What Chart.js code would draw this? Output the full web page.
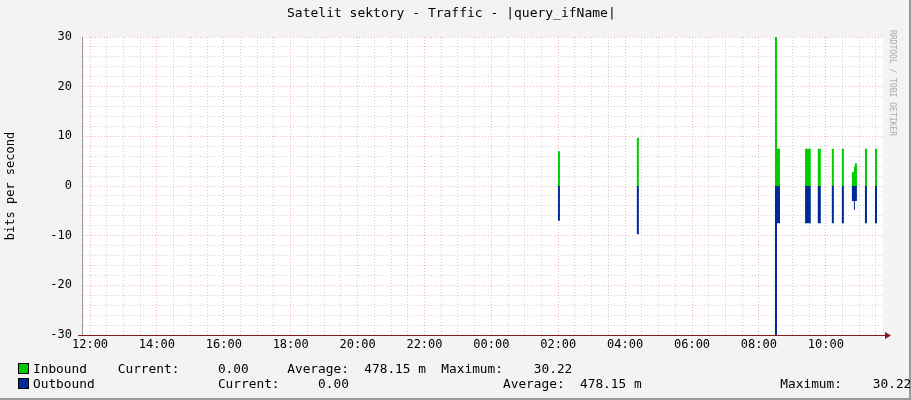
<!DOCTYPE html>
<html><head><meta charset="utf-8">
<script src="https://cdn.jsdelivr.net/npm/chart.js@4/dist/chart.umd.min.js"></script>
<style>
body{margin:0;background:#f3f3f3;}
#wrap{position:relative;width:911px;height:400px;border-right:2px solid #9a9a9a;border-bottom:2px solid #9a9a9a;box-sizing:border-box;}
canvas{position:absolute;left:0;top:0;}
.t{position:absolute;font-family:"DejaVu Sans Mono",monospace;font-size:12.8px;color:#000;white-space:pre;}
.sw{display:inline-block;width:9px;height:9px;border:1px solid #000;vertical-align:-1px;margin-right:4px;}
</style></head><body>
<div id="wrap">
<canvas id="myChart" width="909" height="398"></canvas>
<div class="t" style="left:287px;top:5px;font-size:13px">Satelit sektory - Traffic - |query_ifName|</div>
<div class="t" style="left:897px;top:30px;font-size:8px;color:#aaa;transform:rotate(90deg);transform-origin:0 0">RRDTOOL / TOBI OETIKER</div>
<div class="t" style="left:18px;top:361px"><span class="sw" style="background:#00cc00"></span>Inbound    Current:     0.00     Average:  478.15 m  Maximum:    30.22</div>
<div class="t" style="left:18px;top:376px"><span class="sw" style="background:#002a97"></span>Outbound                Current:     0.00                    Average:  478.15 m                  Maximum:    30.22</div>
</div>
<script>
// hours after 12:00
const spikeStart = [13.99, 16.35, 20.48, 20.54, 21.38, 21.76, 22.18, 22.48, 22.78, 22.84, 22.87, 23.17, 23.47];
const spikeEnd   = [14.05, 16.41, 20.54, 20.63, 21.55, 21.85, 22.24, 22.54, 22.84, 22.87, 22.93, 23.23, 23.53];
const inbound    = [7.0, 9.7, 30.2, 7.5, 7.5, 7.5, 7.5, 7.5, 2.8, 3.9, 4.6, 7.5, 7.5];
const outbound   = [7.0, 9.7, 30.2, 7.5, 7.5, 7.5, 7.5, 7.5, 3.0, 4.8, 3.0, 7.5, 7.5];
const timeLabels = ["12:00","14:00","16:00","18:00","20:00","22:00","00:00","02:00","04:00","06:00","08:00","10:00"];

const steps = (vals, sign) => {
  const pts = [];
  spikeStart.forEach((s, i) => {
    const v = vals[i] * sign;
    pts.push({x: s, y: 0}, {x: s, y: v}, {x: spikeEnd[i], y: v}, {x: spikeEnd[i], y: 0});
  });
  return pts;
};

const plotBg = {
  id: "plotBg",
  beforeDraw(c) {
    const a = c.chartArea, x = c.ctx;
    x.save(); x.fillStyle = "#fff"; x.fillRect(a.left, a.top, a.right - a.left, a.bottom - a.top); x.restore();
  },
  afterDraw(c) {
    const a = c.chartArea, x = c.ctx;
    x.save(); x.strokeStyle = "#8b1a1a"; x.fillStyle = "#8b1a1a"; x.lineWidth = 1;
    x.beginPath(); x.moveTo(a.left - 4, a.bottom + 0.5); x.lineTo(a.right + 4, a.bottom + 0.5); x.stroke();
    x.beginPath(); x.moveTo(a.right + 8, a.bottom + 0.5); x.lineTo(a.right + 2, a.bottom - 3); x.lineTo(a.right + 2, a.bottom + 4); x.fill();
    x.restore();
  }
};

const grid = (ctx, major) => {
  const v = ctx.tick ? ctx.tick.value : 0;
  return Math.abs(v / major - Math.round(v / major)) < 1e-6 ? "rgba(230,120,120,0.55)" : "rgba(180,180,180,0.6)";
};

new Chart(document.getElementById("myChart").getContext("2d"), {
  type: "line",
  data: {
    datasets: [
      {label: "Inbound", data: steps(inbound, 1), borderWidth: 0, pointRadius: 0, fill: "origin", backgroundColor: "#00cc00", borderColor: "#00cc00", tension: 0},
      {label: "Outbound", data: steps(outbound, -1), borderWidth: 0, pointRadius: 0, fill: "origin", backgroundColor: "#002a97", borderColor: "#002a97", tension: 0}
    ]
  },
  options: {
    responsive: false, animation: false,
    layout: {padding: {left: 0, right: 26, top: 37, bottom: 41}},
    plugins: {legend: {display: false}, tooltip: {enabled: false}},
    scales: {
      x: {
        type: "linear", min: -0.24, max: 23.71,
        afterBuildTicks: s => { const t = []; for (let v = 0; v <= 23.5; v += 0.5) t.push({value: v}); s.ticks = t; },
        afterFit: s => { s.height = 22; },
        ticks: {autoSkip: false, maxRotation: 0, color: "#000", font: {family: "DejaVu Sans Mono", size: 12}, padding: 3,
          callback: v => (v % 2 === 0 ? timeLabels[v / 2] : "")},
        grid: {color: c => grid(c, 2), lineWidth: 1, drawTicks: false},
        border: {display: false, dash: [1, 2]}
      },
      y: {
        min: -30, max: 30,
        afterBuildTicks: s => { const t = []; for (let v = -30; v <= 30; v += 2) t.push({value: v}); s.ticks = t; },
        afterFit: s => { s.width = 82; },
        ticks: {autoSkip: false, color: "#000", font: {family: "DejaVu Sans Mono", size: 12}, padding: 10,
          callback: v => (v % 10 === 0 ? String(v) : "")},
        title: {display: true, text: "bits per second", color: "#000", font: {family: "DejaVu Sans Mono", size: 12}, padding: {top: 4, bottom: 0}},
        grid: {color: c => grid(c, 10), lineWidth: 1, drawTicks: false},
        border: {display: true, color: "#999", dash: [1, 2]}
      }
    }
  },
  plugins: [plotBg]
});
</script>
</body></html>
